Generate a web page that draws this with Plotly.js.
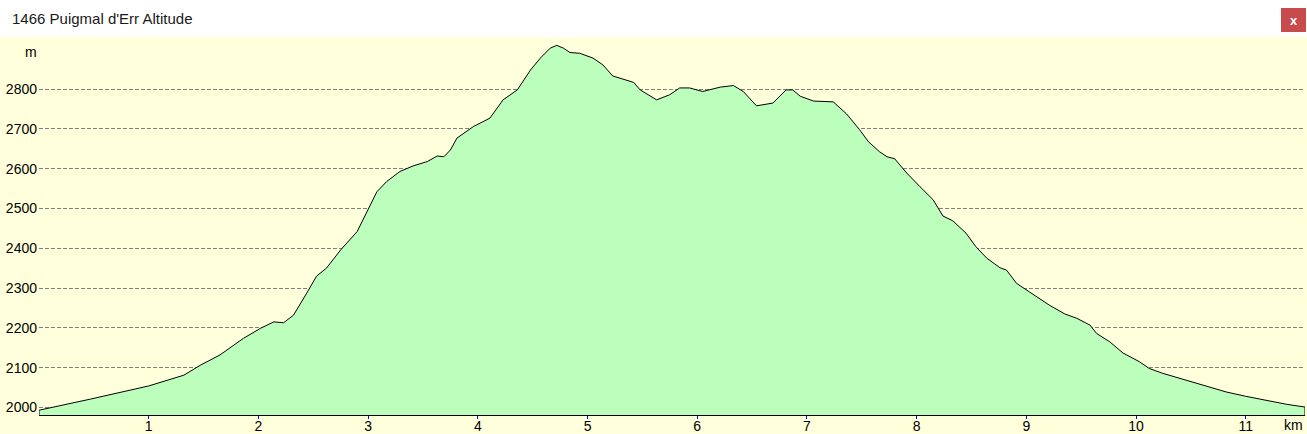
<!DOCTYPE html>
<html>
<head>
<meta charset="utf-8">
<script src="https://cdn.plot.ly/plotly-3.0.1.min.js"></script>
<style>
html,body{margin:0;padding:0;background:#ffffdc;}
#chart{width:1307px;height:434px;}
</style>
</head>
<body>
<div id="chart"></div>
<script>
// Distance along route (km)
const distanceKm = [0.00,0.47,1.00,1.32,1.47,1.65,1.865,2.02,2.14,2.23,2.32,2.44,2.53,2.62,2.75,2.90,2.99,3.08,3.17,3.29,3.41,3.54,3.63,3.69,3.75,3.81,3.96,4.11,4.23,4.36,4.48,4.57,4.66,4.72,4.78,4.84,4.93,5.05,5.14,5.23,5.42,5.48,5.63,5.75,5.84,5.93,6.05,6.21,6.33,6.42,6.54,6.69,6.81,6.87,6.94,7.06,7.24,7.36,7.48,7.56,7.66,7.73,7.80,7.91,8.03,8.15,8.24,8.33,8.45,8.54,8.64,8.76,8.82,8.91,9.03,9.21,9.35,9.46,9.58,9.64,9.76,9.88,10.03,10.12,10.24,10.43,10.61,10.82,11.00,11.19,11.37,11.54];
// Altitude (m)
const altitudeM = [1993,2021,2054,2081,2106,2132,2174,2199,2215,2213,2232,2287,2330,2350,2396,2442,2492,2542,2568,2593,2607,2618,2632,2630,2647,2677,2706,2727,2773,2798,2848,2878,2903,2910,2903,2892,2890,2878,2861,2833,2817,2798,2773,2786,2803,2803,2794,2805,2809,2794,2758,2765,2798,2798,2782,2770,2768,2738,2698,2668,2643,2630,2625,2589,2555,2522,2481,2469,2438,2404,2375,2351,2345,2312,2290,2257,2235,2224,2207,2186,2165,2137,2115,2098,2086,2070,2056,2039,2028,2018,2008,2001];
const xTickVals = [1,2,3,4,5,6,7,8,9,10,11];
const xTickText = ['1','2','3','4','5','6','7','8','9','10','11'];
const yTickVals = [2000,2100,2200,2300,2400,2500,2600,2700,2800];
const yTickText = ['2000','2100','2200','2300','2400','2500','2600','2700','2800'];
const titleText = "1466 Puigmal d'Err Altitude";
const xUnit = 'km';
const yUnit = 'm';

const xRange = [0, 11.54];
const yRange = [1981, 2931];

const last = distanceKm.length - 1;
const polyX = [distanceKm[0]].concat(distanceKm, [distanceKm[last]]);
const polyY = [yRange[0]].concat(altitudeM, [yRange[0]]);

const font = 'Liberation Sans, Arial, sans-serif';

const trace = {
  x: polyX, y: polyY, type: 'scatter', mode: 'lines',
  fill: 'toself', fillcolor: '#bcffbc',
  line: {color: '#000000', width: 1, shape: 'linear'},
  hoverinfo: 'skip', showlegend: false
};

const layout = {
  width: 1307, height: 434,
  margin: {l: 39, r: 2, t: 37, b: 19, pad: 0},
  paper_bgcolor: '#ffffdc', plot_bgcolor: '#ffffdc',
  showlegend: false,
  xaxis: {
    range: xRange, tickvals: xTickVals, ticktext: xTickText,
    ticks: 'outside', ticklen: 3, tickcolor: '#0000ff', tickwidth: 1,
    showgrid: false, zeroline: false,
    showline: true, linecolor: '#000000', linewidth: 1,
    tickfont: {family: font, size: 14, color: '#000000'},
    ticklabelstandoff: -5
  },
  yaxis: {
    range: yRange, tickvals: yTickVals, ticktext: yTickText,
    ticks: '', showgrid: true, gridcolor: '#808080', gridwidth: 1,
    griddash: '4px,2px', zeroline: false, showline: false,
    tickfont: {family: font, size: 14, color: '#000000'},
    ticklabelstandoff: 1
  },
  shapes: [
    {type: 'rect', xref: 'paper', yref: 'paper', x0: -0.05, x1: 1.01, y0: 1, y1: 1.2,
     fillcolor: '#ffffff', line: {width: 0}, layer: 'below'},
    {type: 'rect', xref: 'paper', yref: 'paper',
     x0: (1281-39)/1266, x1: (1306-39)/1266, y0: 1 + (37-32)/378, y1: 1 + (37-8)/378,
     fillcolor: '#c84b4b', line: {width: 0}}
  ],
  annotations: [
    {text: titleText, xref: 'paper', yref: 'paper', x: -29/1266, y: 1 + (37-19)/378,
     xanchor: 'left', yanchor: 'middle', showarrow: false,
     font: {family: font, size: 15, color: '#1a1a1a'}},
    {text: '<b>x</b>', xref: 'paper', yref: 'paper', x: (1293.5-39)/1266, y: 1 + (37-20)/378,
     xanchor: 'center', yanchor: 'middle', showarrow: false,
     font: {family: font, size: 13, color: '#ffffff'}},
    {text: yUnit, xref: 'paper', yref: 'paper', x: -8/1266, y: 1 - (52-37)/378,
     xanchor: 'center', yanchor: 'middle', showarrow: false,
     font: {family: font, size: 14, color: '#000000'}},
    {text: xUnit, xref: 'paper', yref: 'paper', x: 1, y: -(425-415)/378,
     xanchor: 'right', yanchor: 'middle', showarrow: false,
     font: {family: font, size: 14, color: '#000000'}}
  ]
};

Plotly.newPlot('chart', [trace], layout, {displayModeBar: false, staticPlot: true});
</script>
</body>
</html>
